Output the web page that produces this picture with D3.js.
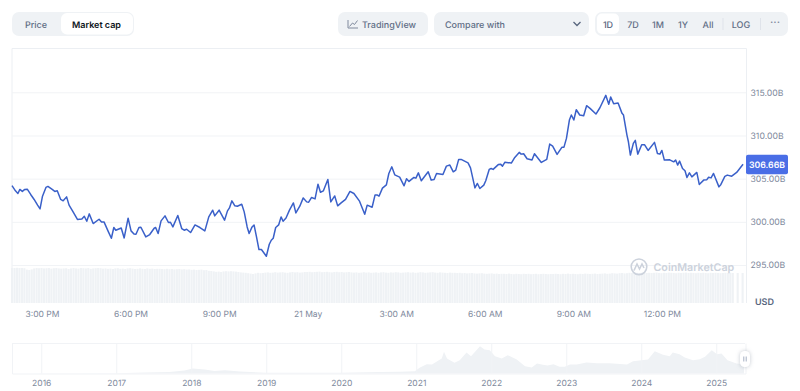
<!doctype html>
<html>
<head>
<meta charset="utf-8">
<title>Market cap</title>
<script src="https://d3js.org/d3.v7.min.js"></script>
<style>
    body { margin: 0; background: #fff; }
    text { font-family: Inter, "Noto Sans", sans-serif; text-rendering: geometricPrecision; }
</style>
</head>
<body>
<div id="chart"></div>
<script>
// minutes after 3:00 PM
var minutes = [-61,-54,-49,-45,-40,-35,-30,-23,-16,-9,-4,1,8,12,20,26,31,38,43,50,55,62,72,81,86,91,96,104,116,121,126,135,141,146,150,161,167,175,181,187,191,197,201,211,219,228,231,236,242,250,257,261,266,276,284,289,294,302,311,321,331,339,347,351,360,371,377,381,386,392,397,406,411,417,421,427,431,436,441,446,456,462,466,470,475,481,486,490,496,503,511,516,524,531,538,542,548,555,561,566,572,581,587,595,601,608,617,626,634,645,656,661,671,677,681,685,692,700,705,711,717,727,736,741,746,756,760,765,771,785,791,797,802,815,822,829,836,841,847,852,866,871,880,885,890,898,902,909,913,917,928,932,936,941,954,961,970,974,979,986,996,1001,1015,1026,1032,1038,1047,1057,1061,1066,1072,1076,1081,1086,1093,1101,1107,1114,1126,1134,1146,1152,1156,1162,1171,1179,1182,1189,1192,1196,1202,1206,1211,1219,1225,1232,1245,1251,1256,1260,1265,1276,1284,1288,1292,1296,1302,1307,1311,1316,1321,1331,1336,1345,1351,1355,1360,1365,1376,1380,1388,1393,1402,1412,1425];

// market cap in billions
var marketCap = [304.19,303.59,303.28,303.75,303.52,303.75,303.78,303.17,302.59,301.93,301.5,302.97,303.98,304.1,303.78,303.52,303.59,302.59,302.43,302.89,301.93,301.27,300.27,300.34,300.65,300.07,300.92,299.8,300.3,299.99,299.99,298.83,298.1,299.34,299.03,299.29,298.13,300.42,298.95,298.6,298.56,299.34,299.37,298.25,298.53,299.26,299.34,298.64,300.11,300.69,299.92,299.95,299.41,300.73,299.22,299.03,299.14,298.76,299.64,299.34,298.95,300.57,301.35,300.69,301.35,300.19,301.27,301.61,302.43,301.85,301.81,302.04,301.15,299.41,298.64,299.41,299.64,298.25,296.79,296.79,296.01,297.4,297.87,298.1,299.34,299.64,300.57,300.07,300.45,301.35,302.19,301.03,301.81,302.77,302.31,302.27,302.82,302.66,304.36,303.43,303.59,304.91,302.31,303,301.85,302.19,302.59,303.52,303.28,302.43,300.88,301.93,301.69,303.12,303.12,302.97,303.9,304.28,305.6,306.37,305.44,305.17,304.17,304.98,304.68,305.14,305.06,305.67,304.75,305.79,304.83,304.91,305.6,305.49,306.45,306.57,305.79,305.99,307.23,307.23,306.83,306.25,303.93,304.44,303.86,304.25,304.75,306.07,306.18,306.07,306.65,306.68,306.45,306.91,306.8,307.46,308.04,307.84,307.88,307.3,307.15,307.88,306.88,307.23,309,308.77,307.81,308.65,308.65,309.66,311.79,312.37,311.79,312.98,312.37,312.29,313.45,313.14,312.48,313.21,314.65,313.61,314.45,313.68,313.76,312.56,312.37,310.05,309.27,307.73,309.08,309.43,307.84,308.92,308.92,308.27,309.2,307.92,307.84,308.27,307.15,307.18,306.95,307.15,306.57,307.03,306.18,305.91,305.14,305.67,305.21,305.72,304.33,304.83,304.86,305.17,305.09,305.6,304.05,304.33,305.26,305.41,305.29,305.72,306.66];

// volume bars, one every 5 minutes from the left edge (0 = no bar)
var volume = [
    35,35,35.2,35,35,34.8,33.4,33,33.6,34.6,35,34.8,35,34.6,34.8,35,34.4,34.8,35,34.6,
    34.4,34.6,34.8,34,34.6,35,34.6,34.4,35,34.8,34.6,35,34.2,34.6,34.8,35,34.8,34.4,34.6,34.2,
    34.4,34,34.6,34.8,34.2,34.4,34,34.6,34.8,34.4,34,34.2,34.6,34.2,34,34.6,34.2,34.4,34,34.2,
    34.2,34,33.8,34.2,33.8,34,33.6,33.8,34,33.6,33.8,33.4,33.6,33.2,33.4,33,33.2,33.4,32.8,33,
    32.2,32,31.6,31.2,31.4,31,31.6,31.8,31.6,31.8,31.6,31.4,31,30.6,30.4,30.2,29.8,29.4,29,29.6,
    30.2,29.8,30,30.4,30.6,30.2,30.4,30.8,30.4,30.6,30.8,30.4,30.2,30.6,31,30.6,30.8,30.4,30.6,31,
    31,31.2,30.8,31,31.2,31.4,30.8,31,31.2,30.8,30.6,31,31.2,30.8,31,30.6,30.8,31,30.6,30.4,
    30.6,30.2,30.4,30.8,30.4,30.6,30.2,30.4,30.6,30.2,30.6,30.8,30.4,30.2,30.6,30.4,30.8,30.6,30.2,30.4,
    30.6,30.8,30.4,30.6,30.2,30.4,30.8,30.6,30.2,30.4,30.6,30.8,30.4,30.2,30.6,30.4,30.2,30,30.4,30.2,
    30.2,30,30.2,29.8,30,29.6,29.8,30,29.6,29.4,29.6,29.8,29.4,29.2,29.4,29.6,29.2,29.4,29,29.2,
    29.2,29,29.4,29,28.8,29.2,29,28.8,29.2,29,29.2,28.8,29,29.2,28.8,29,29.2,29,28.8,29,
    29,29.2,29,28.8,29.2,29,29.4,29,29.2,29,28.8,29.2,29,29.4,29.2,29,29.2,29.4,29,29.2,
    29.4,29.6,29.2,29.4,29.8,29.6,29.4,29.8,30,29.6,29.8,30.2,30,29.8,30.2,30,30.2,29.8,30,30.2,
    30,30.2,30.4,30,29.8,30.2,30,30.4,30.2,30,29.8,30.2,30,30.2,30.4,30,30.2,30,29.8,30.2,
    30,30.2,30,29.8,30.2,30,30.2,30,29.8,30,30.2,30,30.2,30,0,30,0,30
];

var yLabels = [295, 300, 305, 310, 315];
var timeTicks = [0, 180, 360, 540, 720, 900, 1080, 1260];
var timeLabels = ["3:00 PM", "6:00 PM", "9:00 PM", "21 May", "3:00 AM", "6:00 AM", "9:00 AM", "12:00 PM"];

// overview chart at the bottom (all time market cap, billions)
var navYears = [2015.61,2016.99,2017.38,2017.71,2017.91,2018.02,2018.18,2018.31,2018.45,2018.65,2018.99,2019.99,2020.51,2020.78,2020.98,2021.05,2021.14,2021.21,2021.29,2021.34,2021.37,2021.41,2021.45,2021.51,2021.58,2021.67,2021.73,2021.85,2021.91,2021.98,2022.05,2022.14,2022.22,2022.34,2022.45,2022.54,2022.61,2022.69,2022.75,2022.83,2022.91,2022.98,2023.05,2023.14,2023.27,2023.41,2023.58,2023.81,2023.89,2024.09,2024.18,2024.29,2024.38,2024.42,2024.51,2024.58,2024.69,2024.78,2024.85,2024.94,2025.01,2025.07,2025.15,2025.27,2025.37];
var navCap = [0,3,15,22,45,75,60,38,48,30,12,12,22,27,35,90,140,135,190,225,325,225,200,160,200,315,260,410,360,350,260,225,275,210,110,90,150,130,120,140,100,100,135,135,165,155,155,135,185,210,335,280,260,315,290,240,200,215,250,350,290,300,200,150,140];
var navTicks = [2016, 2017, 2018, 2019, 2020, 2021, 2022, 2023, 2024, 2025];

var ranges = ["1D", "7D", "1M", "1Y", "All", "LOG"];

var width = 800, height = 391;
var gridColor = "#f1f3f6", barColor = "#eff2f5", muted = "#808a9d", uiText = "#616e85";

var svg = d3.select("#chart")
    .append("svg")
    .attr("width", width)
    .attr("height", height)
    .style("display", "block");

// scales
var x = d3.scaleLinear().domain([-61, 1431]).range([12, 746]);
var y = d3.scaleLinear().domain([295, 315]).range([265, 92.3]);
var yVol = d3.scaleLinear().domain([0, 35]).range([303, 268]);
var xNav = d3.scaleLinear().domain([2015.61, 2025.39]).range([12, 745.5]);
var yNav = d3.scaleLinear().domain([0, 450]).range([373.5, 343.5]);

// top buttons
function pill(px, py, w, h, r, fill) {
    return svg.append("rect")
        .attr("x", px).attr("y", py)
        .attr("width", w).attr("height", h)
        .attr("rx", r)
        .attr("fill", fill);
}
function label(px, py, txt, size, color, anchor, weight) {
    return svg.append("text")
        .attr("x", px).attr("y", py)
        .attr("font-size", size)
        .attr("fill", color)
        .attr("text-anchor", anchor || "middle")
        .attr("font-weight", weight || 500)
        .text(txt);
}

pill(12, 12, 122, 24, 7, barColor);
pill(61, 13, 72, 21.5, 6, "#fff");
label(36, 27.8, "Price", 9, uiText);
label(96.5, 27.8, "Market cap", 9, "#0d1421", "middle", 600);

pill(338, 12, 90, 24, 7, barColor);
svg.append("path")
    .attr("d", "M348 20V28H358M349.5 26.5L352.5 23L354.5 24.5L357.5 20.5")
    .attr("fill", "none")
    .attr("stroke", "#808a9d")
    .attr("stroke-width", 1);
label(362, 27.8, "TradingView", 9, uiText, "start");

pill(434, 12, 155, 24, 7, barColor);
label(445, 27.8, "Compare with", 9, uiText, "start");
svg.append("path")
    .attr("d", "M573.5 22L577 25.5L580.5 22")
    .attr("fill", "none")
    .attr("stroke", "#58667e")
    .attr("stroke-width", 1.3);

pill(595, 12, 193, 24, 7, barColor);
pill(597, 13.5, 22, 20.5, 5, "#fff");
var rangeX = d3.scalePoint().domain(ranges.slice(0, 5)).range([608, 708]);
ranges.forEach(function(r) {
    var px = r === "LOG" ? 741 : rangeX(r);
    label(px, 27.8, r, 9, r === "1D" ? "#58667e" : uiText);
});
[723, 760.5].forEach(function(px) {
    svg.append("line")
        .attr("x1", px).attr("x2", px)
        .attr("y1", 18).attr("y2", 30)
        .attr("stroke", "#dfe3ea");
});
label(775, 26, "···", 11, "#808a9d");

// frame of the plot
svg.append("path")
    .attr("d", "M12 303V48.5H746.5V303")
    .attr("fill", "none")
    .attr("stroke", "#eceff3");

// y axis with the grid lines
var yAxis = svg.append("g")
    .attr("transform", "translate(746,0)")
    .call(d3.axisRight(y)
        .tickValues(yLabels)
        .tickSize(-734)
        .tickPadding(4.5)
        .tickFormat(function(d) { return d.toFixed(2) + "B"; }));
yAxis.select(".domain").remove();
yAxis.selectAll("line").attr("stroke", gridColor);
yAxis.selectAll("text")
    .attr("fill", muted)
    .attr("font-size", 8.7)
    .attr("font-family", "Inter, sans-serif");

// volume bars
svg.selectAll(".vol")
    .data(volume)
    .enter()
    .append("rect")
    .attr("class", "vol")
    .attr("x", function(d, i) { return x(-61 + i * 5) - 1; })
    .attr("y", function(d) { return yVol(d); })
    .attr("width", 2.1)
    .attr("height", function(d) { return yVol(0) - yVol(d); })
    .attr("fill", barColor);

// watermark
svg.append("circle")
    .attr("cx", 639).attr("cy", 266.8)
    .attr("r", 7.8)
    .attr("fill", "none")
    .attr("stroke", "#ccd2dc")
    .attr("stroke-width", 1.6);
svg.append("path")
    .attr("d", "M634 270.5L637 264L639.5 269L642 264L644 268")
    .attr("fill", "none")
    .attr("stroke", "#ccd2dc")
    .attr("stroke-width", 1.6);
label(653.5, 271.2, "CoinMarketCap", 10.7, "#ccd2dc", "start", 600);

// main line
var line = d3.line()
    .x(function(d, i) { return x(minutes[i]); })
    .y(function(d) { return y(d); });

svg.append("path")
    .datum(marketCap)
    .attr("fill", "none")
    .attr("stroke", "#3a60c9")
    .attr("stroke-width", 1.5)
    .attr("stroke-linejoin", "round")
    .attr("d", line);

// last price tag
var last = marketCap[marketCap.length - 1];
pill(746, y(last) - 9.5, 42, 19.5, 2, "#4a6ee6");
label(767, y(last) + 3.2, last.toFixed(2) + "B", 8.7, "#fff", "middle", 600);

label(755, 305, "USD", 9, "#58667e", "start", 600);

// time axis
var xAxis = svg.append("g")
    .attr("transform", "translate(0,303)")
    .call(d3.axisBottom(x)
        .tickValues(timeTicks)
        .tickSize(0)
        .tickPadding(8)
        .tickFormat(function(d, i) { return timeLabels[i]; }));
xAxis.select(".domain").remove();
xAxis.selectAll("text")
    .attr("fill", muted)
    .attr("font-size", 8.5)
    .attr("font-family", "Inter, sans-serif");

// overview chart
svg.append("line")
    .attr("x1", 12).attr("x2", 745)
    .attr("y1", 343.5).attr("y2", 343.5)
    .attr("stroke", gridColor);

var area = d3.area()
    .x(function(d, i) { return xNav(navYears[i]); })
    .y0(yNav(0))
    .y1(function(d) { return yNav(d); });

svg.append("path")
    .datum(navCap)
    .attr("fill", "#eff2f5")
    .attr("d", area);

var navAxis = svg.append("g")
    .attr("transform", "translate(0,373.5)")
    .call(d3.axisBottom(xNav)
        .tickValues(navTicks)
        .tickSize(-30)
        .tickPadding(6.5)
        .tickFormat(d3.format("d")));
navAxis.select(".domain").attr("stroke", gridColor);
navAxis.selectAll("line").attr("stroke", "#f1f3f6");
navAxis.selectAll("text")
    .attr("fill", muted)
    .attr("font-size", 8.5)
    .attr("font-family", "Inter, sans-serif");

// handle of the overview
svg.append("rect")
    .attr("x", 740).attr("y", 351)
    .attr("width", 10).attr("height", 16)
    .attr("rx", 4.5)
    .attr("fill", "#fff")
    .style("filter", "drop-shadow(0 0 2px rgba(88,102,126,0.35))");
[743.8, 746.2].forEach(function(px) {
    svg.append("line")
        .attr("x1", px).attr("x2", px)
        .attr("y1", 356.5).attr("y2", 361.5)
        .attr("stroke", "#a6b0c3");
});
</script>
</body>
</html>
